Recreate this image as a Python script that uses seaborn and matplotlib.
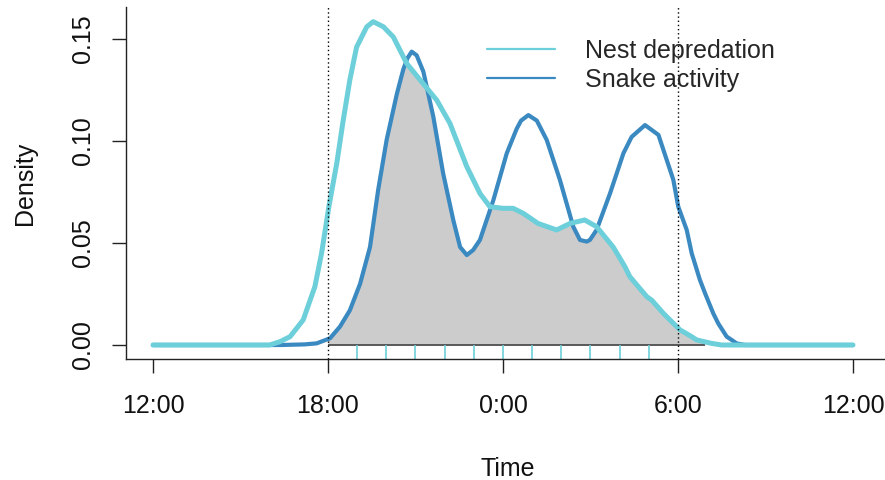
import matplotlib
matplotlib.use("Agg")
import matplotlib.pyplot as plt
from matplotlib.lines import Line2D
import numpy as np
import pandas as pd
import seaborn as sns

# Kernel density estimates of activity over the day (hours, 12 = noon, 24 = midnight)
nest_hours = [12, 16.0, 16.35, 16.7, 17.15, 17.55, 17.78, 18.03, 18.3, 18.52, 18.75,
              18.98, 19.33, 19.55, 19.9, 20.24, 20.7, 21.27, 21.73, 22.18, 22.76,
              23.21, 23.55, 24.0, 24.35, 24.7, 25.2, 25.84, 26.3, 26.8, 27.21, 27.78,
              28.18, 28.35, 28.93, 29.1, 29.5, 30.07, 30.47, 30.64, 31.15, 31.5, 36]
nest_density = [0.0, 0.0, 0.0016, 0.0041, 0.0123, 0.0286, 0.045, 0.0678, 0.089, 0.110,
                0.130, 0.146, 0.156, 0.1585, 0.156, 0.151, 0.138, 0.128, 0.120, 0.1087,
                0.0874, 0.0743, 0.0678, 0.067, 0.067, 0.0645, 0.0596, 0.0564, 0.0596,
                0.0613, 0.058, 0.048, 0.0384, 0.0335, 0.0237, 0.022, 0.0155, 0.0074,
                0.0041, 0.0025, 0.0008, 0.0, 0.0]

snake_hours = [12, 16.4, 17.2, 17.61, 18.07, 18.41, 18.75, 19.1, 19.44, 19.72, 20.01,
               20.36, 20.58, 20.72, 20.87, 21.04, 21.27, 21.61, 21.95, 22.3, 22.53,
               22.76, 22.98, 23.21, 23.67, 24.13, 24.47, 24.62, 24.87, 25.16, 25.5,
               25.95, 26.41, 26.64, 26.87, 26.98, 27.21, 27.67, 28.13, 28.41, 28.87,
               29.33, 29.84, 30.01, 30.3, 30.47, 30.75, 30.93, 31.21, 31.38, 31.67,
               31.84, 32.01, 32.3, 36]
snake_density = [0.0, 0.0, 0.0003, 0.0008, 0.0033, 0.009, 0.017, 0.030, 0.048, 0.076,
                 0.1005, 0.123, 0.135, 0.1405, 0.1438, 0.142, 0.134, 0.112, 0.084, 0.061,
                 0.048, 0.0441, 0.0466, 0.0515, 0.071, 0.094, 0.106, 0.110, 0.1127, 0.110,
                 0.1005, 0.081, 0.058, 0.0515, 0.0507, 0.0515, 0.0564, 0.0743, 0.094,
                 0.102, 0.1078, 0.103, 0.081, 0.0678, 0.0564, 0.045, 0.032, 0.0253,
                 0.0155, 0.0106, 0.0041, 0.0025, 0.0008, 0.0, 0.0]

# Observed nest depredation times (rug)
depredation_times = [19, 20, 21, 22, 23, 24, 25, 26, 27, 28, 29]

# Sunset / sunrise reference lines
sun_lines = [18, 30]
overlap_range = [18, 30.93]

tick_hours = [12, 18, 24, 30, 36]
tick_labels = ["12:00", "18:00", "0:00", "6:00", "12:00"]
y_ticks = [0.0, 0.05, 0.10, 0.15]
y_labels = ["0.00", "0.05", "0.10", "0.15"]

nest_col = "#6ccfd9"
snake_col = "#3a89c1"
FS = 18

sns.set_style("ticks")
plt.rcParams["font.family"] = ["Liberation Sans", "DejaVu Sans"]

fig = plt.figure(figsize=(8.85, 4.8), dpi=100)
ax = fig.add_axes([126 / 885, 1 - 359 / 480, (890 - 126) / 885, (359 - 7) / 480])

nest_df = pd.DataFrame({"hour": nest_hours, "density": nest_density})
snake_df = pd.DataFrame({"hour": snake_hours, "density": snake_density})

# Overlap region: minimum of the two densities between the reference lines
grid = np.union1d(nest_df["hour"], snake_df["hour"])
grid = grid[(grid >= overlap_range[0]) & (grid <= overlap_range[1])]
grid = np.union1d(grid, overlap_range)
low = np.minimum(np.interp(grid, nest_df["hour"], nest_df["density"]),
                 np.interp(grid, snake_df["hour"], snake_df["density"]))
ax.fill_between(grid, 0, low, color="#cccccc", lw=0, zorder=1)
ax.hlines(0, overlap_range[0], overlap_range[1], color="#444444", lw=1.2, zorder=1.5)

sns.lineplot(data=snake_df, x="hour", y="density", ax=ax, color=snake_col,
             lw=3.0, zorder=3, legend=False)
sns.lineplot(data=nest_df, x="hour", y="density", ax=ax, color=nest_col,
             lw=3.6, zorder=4, legend=False)

# Rug of depredation events below the zero line
for t in depredation_times:
    ax.plot([t, t], [-0.00686, 0.0], color=nest_col, lw=1.2, zorder=2,
            solid_capstyle="butt", clip_on=False)

for s in sun_lines:
    ax.axvline(s, color="black", lw=1.0, ls=(0, (1, 2)), zorder=5)

ax.set_xlim(11.074, 37.27)
ax.set_ylim(-0.00686, 0.16569)
ax.set_xticks(tick_hours)
ax.set_xticklabels(tick_labels)
ax.set_yticks(y_ticks)
ax.set_yticklabels(y_labels, rotation=90, va="center")

for sp in ["top", "right"]:
    ax.spines[sp].set_visible(False)
for sp in ["left", "bottom"]:
    ax.spines[sp].set_color("#222222")
    ax.spines[sp].set_linewidth(1.0)

ax.tick_params(axis="both", length=10, width=1.0, color="#222222",
               labelsize=FS, labelcolor="#111111")
ax.tick_params(axis="x", pad=15)
ax.tick_params(axis="y", pad=12)

ax.set_xlabel("Time", fontsize=FS, labelpad=28, color="#111111")
ax.set_ylabel("Density", fontsize=FS, labelpad=25, color="#111111")

# Legend
handles = [Line2D([], [], color=nest_col, lw=1.6),
           Line2D([], [], color=snake_col, lw=1.6)]
leg = ax.legend(handles, ["Nest depredation", "Snake activity"],
                loc="upper left", bbox_to_anchor=((477 - 126) / 764, 1 - (29 - 7) / 352),
                frameon=False, fontsize=FS, handlelength=2.72, handletextpad=1.2,
                labelspacing=0.2, borderaxespad=0)

fig.savefig("out.png", dpi=100)
